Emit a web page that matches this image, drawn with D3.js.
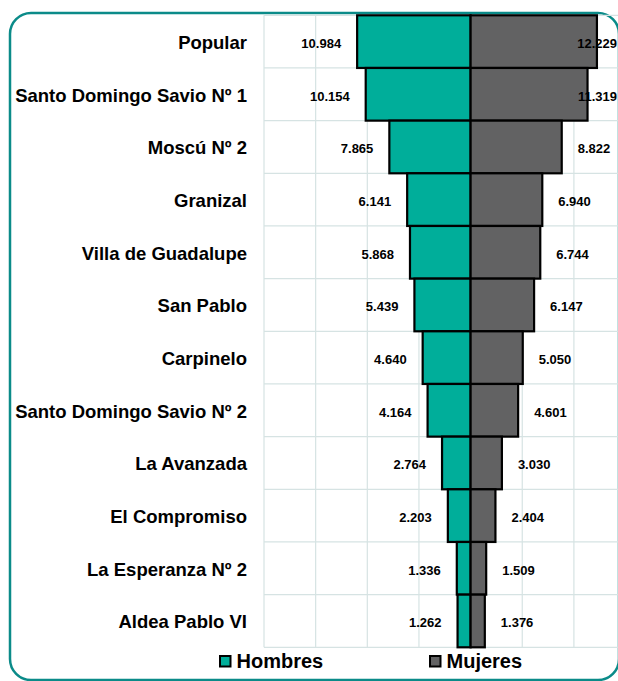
<!DOCTYPE html>
<html>
<head>
<meta charset="utf-8">
<script src="https://cdn.jsdelivr.net/npm/d3@7"></script>
<style>
  html, body { margin: 0; padding: 0; background: #fff; }
  svg { display: block; font-family: "Liberation Sans", Arial, sans-serif; }
</style>
</head>
<body>
<svg id="chart" width="618" height="681"></svg>
<script>
const categories = ["Popular", "Santo Domingo Savio Nº 1", "Moscú Nº 2", "Granizal", "Villa de Guadalupe",
  "San Pablo", "Carpinelo", "Santo Domingo Savio Nº 2", "La Avanzada ", "El Compromiso",
  "La Esperanza Nº 2 ", "Aldea Pablo VI"];
const hombres = [10984, 10154, 7865, 6141, 5868, 5439, 4640, 4164, 2764, 2203, 1336, 1262];
const mujeres = [12229, 11319, 8822, 6940, 6744, 6147, 5050, 4601, 3030, 2404, 1509, 1376];
const seriesNames = ["Hombres", "Mujeres"];
const gridTicks = [-20000, -15000, -10000, -5000, 0, 5000, 10000, 15000, 20000];

const colors = { Hombres: "#00ae9a", Mujeres: "#626263" };
const fmt = v => d3.format(",")(v).replace(/,/g, ".");

const svg = d3.select("#chart");

// outer rounded border
svg.append("rect")
  .attr("x", 10).attr("y", 13).attr("width", 609).attr("height", 667)
  .attr("rx", 21).attr("ry", 21)
  .attr("fill", "none").attr("stroke", "#0b8b89").attr("stroke-width", 2.5);

const x = d3.scaleLinear().domain([-20000, 20000]).range([264, 677.2]);
const y = d3.scaleBand().domain(categories).range([15.3, 647.3]).padding(0);

// grid
const grid = svg.append("g").attr("stroke", "#d6e3e3").attr("stroke-width", 1.2);
grid.selectAll("line.v").data(gridTicks).join("line")
  .attr("x1", d => x(d)).attr("x2", d => x(d))
  .attr("y1", y.range()[0]).attr("y2", y.range()[1]);
const hLines = categories.map(c => y(c)).concat([y.range()[1]]);
grid.selectAll("line.h").data(hLines).join("line")
  .attr("x1", x(-20000)).attr("x2", x(20000))
  .attr("y1", d => d).attr("y2", d => d);

// bars
const bars = svg.append("g").attr("stroke", "#000").attr("stroke-width", 2.2);
bars.selectAll("rect.h").data(categories).join("rect")
  .attr("x", (c, i) => x(-hombres[i]))
  .attr("width", (c, i) => x(0) - x(-hombres[i]))
  .attr("y", c => y(c)).attr("height", y.bandwidth())
  .attr("fill", colors.Hombres);
bars.selectAll("rect.m").data(categories).join("rect")
  .attr("x", x(0))
  .attr("width", (c, i) => x(mujeres[i]) - x(0))
  .attr("y", c => y(c)).attr("height", y.bandwidth())
  .attr("fill", colors.Mujeres);

// category labels
svg.append("g").selectAll("text").data(categories).join("text")
  .attr("x", 247)
  .attr("y", c => y(c) + y.bandwidth() / 2 + 1)
  .attr("text-anchor", "end")
  .attr("dominant-baseline", "central")
  .attr("font-size", 18.5).attr("font-weight", "bold").attr("fill", "#000")
  .text(c => c);

// value labels
const vl = svg.append("g").attr("font-size", 13).attr("font-weight", "bold").attr("fill", "#000");
vl.selectAll("text.h").data(categories).join("text")
  .attr("x", (c, i) => x(-hombres[i]) - 16)
  .attr("y", c => y(c) + y.bandwidth() / 2 + 2)
  .attr("text-anchor", "end")
  .attr("dominant-baseline", "central")
  .text((c, i) => fmt(hombres[i]));
vl.selectAll("text.m").data(categories).join("text")
  .attr("y", c => y(c) + y.bandwidth() / 2 + 2)
  .attr("dominant-baseline", "central")
  .text((c, i) => fmt(mujeres[i]))
  .each(function(c, i) {
    const w = this.getComputedTextLength();
    d3.select(this).attr("x", Math.min(x(mujeres[i]) + 16, 617 - w));
  });

// legend
const legendX = [219, 429];
const lg = svg.append("g");
seriesNames.forEach((s, i) => {
  lg.append("rect")
    .attr("x", legendX[i] + 1).attr("y", 656).attr("width", 10.5).attr("height", 10.5)
    .attr("fill", colors[s]).attr("stroke", "#000").attr("stroke-width", 2);
  lg.append("text")
    .attr("x", legendX[i] + 17.5).attr("y", 668)
    .attr("font-size", 20).attr("font-weight", "bold").attr("fill", "#000")
    .text(s);
});
</script>
</body>
</html>
